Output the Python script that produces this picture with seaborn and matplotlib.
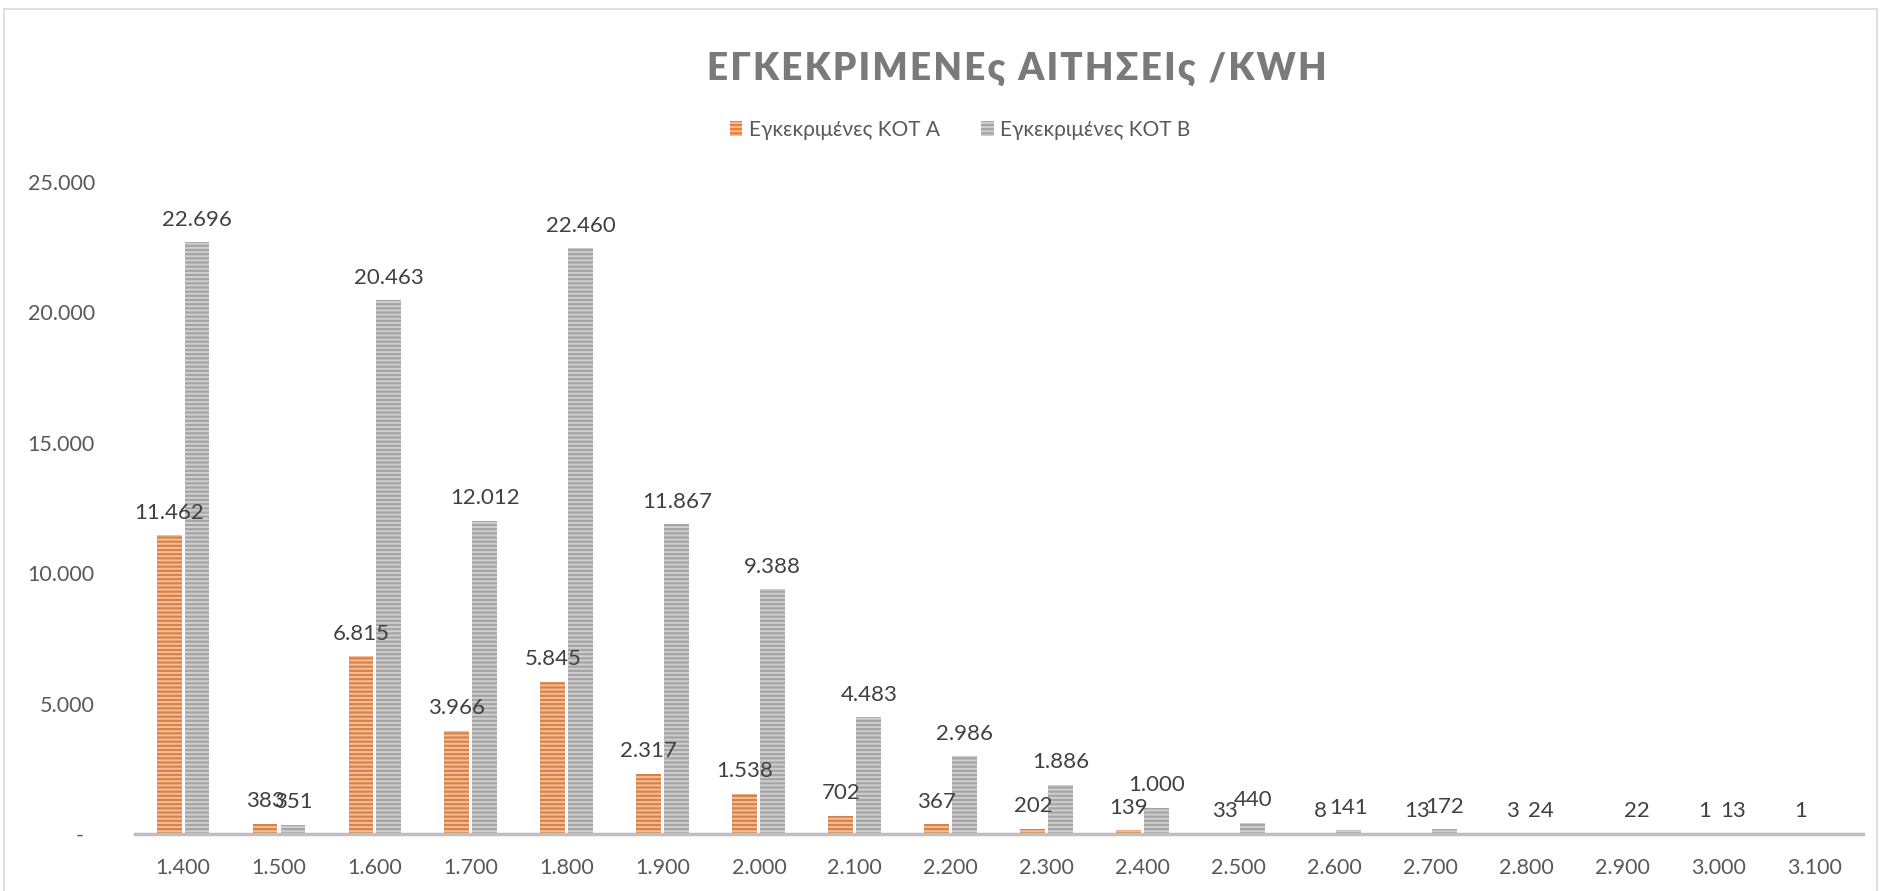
import numpy as np
import pandas as pd
import matplotlib
matplotlib.use('Agg')
import matplotlib.pyplot as plt
import seaborn as sns
from matplotlib.patches import Rectangle

# ── data ──────────────────────────────────────────────────────────────────────
CATEGORIES = ["1.400", "1.500", "1.600", "1.700", "1.800", "1.900", "2.000", "2.100", "2.200",
              "2.300", "2.400", "2.500", "2.600", "2.700", "2.800", "2.900", "3.000", "3.100"]
KOT_A = [11462, 383, 6815, 3966, 5845, 2317, 1538, 702, 367,
         202, 139, 33, 8, 13, 3, np.nan, 1, 1]
KOT_B = [22696, 351, 20463, 12012, 22460, 11867, 9388, 4483, 2986,
         1886, 1000, 440, 141, 172, 24, 22, 13, np.nan]
SERIES = ["Εγκεκριμένες ΚΟΤ Α", "Εγκεκριμένες ΚΟΤ Β"]
Y_TICKS = [0, 5000, 10000, 15000, 20000, 25000]
TITLE = "ΕΓΚΕΚΡΙΜΕΝΕς ΑΙΤΗΣΕΙς /KWH"

df = pd.DataFrame({
    "kwh": CATEGORIES * 2,
    "series": [SERIES[0]] * len(CATEGORIES) + [SERIES[1]] * len(CATEGORIES),
    "value": KOT_A + KOT_B,
})
df["plot_value"] = df["value"].fillna(0)

FACE = {SERIES[0]: "#ED7D31", SERIES[1]: "#A5A5A5"}
STRIPE = {SERIES[0]: "#F6BE98", SERIES[1]: "#CFCFCF"}
TEXT = "#595959"

sns.set_style("white")
plt.rcParams['font.family'] = ['Lato', 'DejaVu Sans']
plt.rcParams['hatch.linewidth'] = 1.4

fig = plt.figure(figsize=(18.86, 8.91), dpi=100)
ax = fig.add_axes([0.0716, 0.064, 0.916, 0.7318])

sns.barplot(data=df, x="kwh", y="plot_value", hue="series", order=CATEGORIES,
            hue_order=SERIES, palette=FACE, width=0.583, gap=0.108, ax=ax, legend=False)

def fmt(v):
    return "" if np.isnan(v) else f"{v:,.0f}".replace(",", ".")

for cont, name, vals in zip(ax.containers, SERIES, [KOT_A, KOT_B]):
    for bar in cont:
        bar.set_hatch("----")
        bar.set_edgecolor(STRIPE[name])
        bar.set_linewidth(0)
    ax.bar_label(cont, labels=[fmt(v) for v in vals], padding=9,
                 fontsize=16, color="#404040")

ax.set_ylim(0, 25000)
ax.set_xlim(-0.5, len(CATEGORIES) - 0.5)
ax.set_yticks(Y_TICKS)
ax.set_yticklabels(["-  "] + [fmt(v) for v in Y_TICKS[1:]])
ax.set_xlabel(""); ax.set_ylabel("")
ax.tick_params(axis="y", length=0, pad=29, labelsize=15.5, labelcolor=TEXT)
ax.tick_params(axis="x", length=0, pad=17, labelsize=15.5, labelcolor=TEXT)
for s in ["top", "right", "left"]:
    ax.spines[s].set_visible(False)
ax.spines["bottom"].set_color("#BFBFBF")
ax.spines["bottom"].set_linewidth(2.5)

# legend
handles = [Rectangle((0, 0), 1, 1, facecolor=FACE[s], edgecolor=STRIPE[s],
                     hatch="----", linewidth=0) for s in SERIES]
fig.legend(handles, SERIES, loc="center", bbox_to_anchor=(0.509, 0.854), ncol=2,
           frameon=False, fontsize=15, labelcolor=TEXT, handlelength=0.6,
           handleheight=0.75, handletextpad=0.3, columnspacing=2.0)

# letter-spaced title
spaced = "\u200a".join(TITLE)
fig.text(0.539, 0.923, spaced, ha="center", va="center",
         fontsize=26.5, fontweight="heavy", color="#7A7A7A")

# chart frame
fig.patches.append(Rectangle((0.002, -0.01), 0.993, 1.0, transform=fig.transFigure,
                             fill=False, edgecolor="#D9D9D9", linewidth=1.2))

plt.savefig("out.png", dpi=100)
plt.close()
